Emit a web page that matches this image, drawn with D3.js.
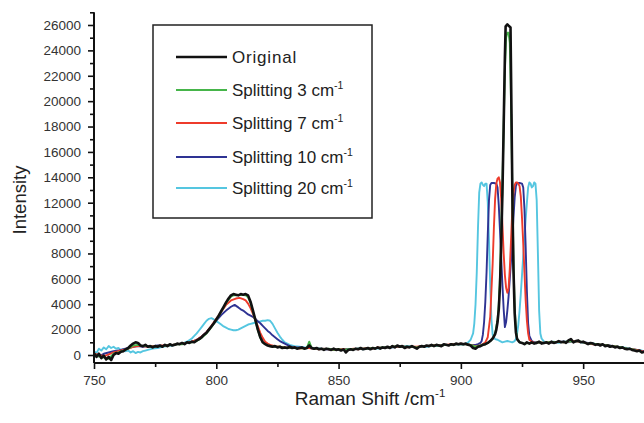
<!DOCTYPE html>
<html>
<head>
<meta charset="utf-8">
<script src="https://cdn.jsdelivr.net/npm/d3@7"></script>
<style>
  html, body { margin: 0; padding: 0; background: #fff; }
  svg { display: block; font-family: "Liberation Sans", Arial, sans-serif; }
</style>
</head>
<body>
<svg id="chart" width="644" height="423"></svg>
<script>
// ---------- DATA ----------
const seriesNames = ["Original", "Splitting 3 cm", "Splitting 7 cm", "Splitting 10 cm", "Splitting 20 cm"];
const seriesColors = ["#111111", "#46b54a", "#ee3b2b", "#2e3393", "#55c6e0"];

const xTicks = [750, 800, 850, 900, 950];
const xMinorTicks = [775, 825, 875, 925, 975];
const yTicks = [0, 2000, 4000, 6000, 8000, 10000, 12000, 14000, 16000, 18000, 20000, 22000, 24000, 26000];
const yMinorTicks = [1000, 3000, 5000, 7000, 9000, 11000, 13000, 15000, 17000, 19000, 21000, 23000, 25000, 27000];

const original = [[750,150],[751,-150],[752,100],[753,-250],[754,-50],[755,-350],[756,-150],[757,-400],[758,0],[759,150],[760,100],[761,250],[762,300],[763,450],[764,550],[765,750],[766,900],[767,1000],[768,950],[769,750],[770,700],[771,800],[772,650],[773,700],[774,600],[775,700],[776,650],[777,750],[778,650],[779,800],[780,700],[781,850],[782,750],[783,800],[784,900],[785,850],[786,950],[787,850],[788,1000],[789,950],[790,1050],[791,1000],[792,1150],[793,1250],[794,1400],[795,1600],[796,1750],[797,2000],[798,2250],[799,2500],[800,2800],[801,3100],[802,3450],[803,3800],[804,4150],[805,4450],[806,4700],[807,4800],[808,4750],[809,4700],[810,4800],[811,4750],[812,4800],[813,4700],[814,4200],[815,3500],[816,2750],[817,2000],[818,1400],[819,1000],[820,850],[821,750],[822,700],[823,650],[824,700],[825,600],[826,650],[827,550],[828,600],[829,550],[830,650],[831,550],[832,600],[833,500],[834,550],[835,600],[836,500],[837,550],[838,750],[839,550],[840,500],[841,550],[842,450],[843,500],[844,400],[845,500],[846,450],[847,400],[848,500],[849,400],[850,450],[851,350],[852,450],[853,200],[854,400],[855,450],[856,400],[857,500],[858,450],[859,550],[860,450],[861,500],[862,550],[863,450],[864,550],[865,500],[866,600],[867,500],[868,600],[869,550],[870,650],[871,550],[872,700],[873,600],[874,750],[875,650],[876,700],[877,550],[878,650],[879,600],[880,700],[881,600],[882,500],[883,650],[884,700],[885,650],[886,750],[887,700],[888,800],[889,700],[890,800],[891,750],[892,700],[893,850],[894,800],[895,750],[896,850],[897,800],[898,900],[899,850],[900,900],[901,850],[902,900],[903,800],[904,750],[905,550],[906,500],[907,650],[908,700],[909,800],[910,850],[911,950],[912,1100],[913,1300],[914,1650],[914.5,2000],[915,2600],[915.5,3600],[916,5500],[916.5,8800],[917,12800],[917.5,18000],[918,23500],[918.3,25900],[919,26050],[919.5,25950],[920.3,25800],[920.7,19000],[921.1,12000],[921.5,6800],[922,3300],[922.5,1800],[923,1250],[924,1000],[925,950],[926,850],[927,1000],[928,900],[929,1000],[930,900],[931,950],[932,1050],[933,900],[934,950],[935,1000],[936,900],[937,1050],[938,950],[939,1000],[940,1100],[941,1000],[942,1050],[943,950],[944,1150],[945,1250],[946,1000],[947,1100],[948,1150],[949,1000],[950,1050],[951,950],[952,850],[953,950],[954,900],[955,800],[956,850],[957,750],[958,850],[959,700],[960,750],[961,650],[962,700],[963,600],[964,650],[965,550],[966,600],[967,500],[968,450],[969,500],[970,400],[971,350],[972,300],[973,350],[974,200],[975,250]];

const split3 = [[750,0],[752,-100],[754,-200],[756,-300],[758,100],[760,200],[762,350],[764,500],[766,750],[768,800],[770,700],[772,700],[774,650],[776,700],[778,700],[780,750],[782,800],[784,850],[786,850],[788,950],[790,1000],[792,1100],[794,1350],[796,1700],[798,2200],[800,2750],[802,3400],[804,4100],[806,4600],[807,4700],[808,4700],[810,4750],[812,4700],[813,4550],[814,4100],[815,3400],[816,2700],[817,1950],[818,1350],[819,1000],[820,850],[822,700],[824,650],[826,650],[828,550],[830,600],[832,550],[834,550],[836,500],[837,550],[838,1050],[839,550],[840,500],[842,500],[844,450],[846,500],[848,400],[850,450],[852,400],[854,450],[856,450],[858,500],[860,500],[862,500],[864,550],[866,550],[868,600],[870,600],[872,650],[874,700],[876,650],[878,650],[880,650],[882,600],[884,700],[886,700],[888,750],[890,750],[892,750],[894,800],[896,800],[898,850],[900,850],[902,850],[904,800],[906,650],[908,750],[910,850],[911,950],[912,1100],[913,1300],[914,1700],[915,2800],[915.5,4000],[916,6200],[916.5,9800],[917,13500],[917.5,18000],[918,22500],[918.5,25000],[919,25400],[919.5,25400],[920,24600],[920.5,20000],[921,13500],[921.5,7500],[922,3800],[922.5,2000],[923,1300],[924,1000],[926,900],[928,950],[930,950],[932,1000],[934,950],[936,1000],[938,1000],[940,1050],[942,1000],[944,1100],[946,1050],[948,1100],[950,1000],[952,900],[954,900],[956,850],[958,800],[960,750],[962,700],[964,650],[966,600],[968,500],[970,450],[972,350],[974,250],[975,250]];

const split7 = [[750,100],[752,0],[754,-100],[756,50],[758,200],[760,300],[762,400],[764,500],[766,650],[768,700],[770,700],[772,650],[774,700],[776,700],[778,750],[780,750],[782,800],[784,850],[786,900],[788,950],[790,1050],[792,1200],[794,1450],[796,1800],[798,2300],[800,2850],[802,3400],[804,3950],[806,4300],[808,4450],[809.5,4500],[811,4400],[812,4300],[813,4050],[814,3700],[815,3250],[816,2750],[817,2250],[818,1750],[819,1350],[820,1050],[821,900],[822,800],[824,700],[826,650],[828,600],[830,550],[832,600],[834,500],[836,550],[838,550],[840,500],[842,450],[844,500],[846,450],[848,400],[850,450],[852,450],[854,400],[856,500],[858,450],[860,500],[862,550],[864,500],[866,600],[868,550],[870,600],[872,650],[874,650],[876,700],[878,600],[880,650],[882,650],[884,700],[886,700],[888,750],[890,800],[892,750],[894,800],[896,850],[898,850],[900,900],[902,850],[904,800],[906,700],[908,750],[909,850],[910,1000],[911,1400],[912,3000],[913,7200],[913.5,10000],[914,12300],[914.5,13500],[915,13900],[915.5,14000],[916,13600],[916.5,12300],[917,10200],[917.5,8000],[918,6300],[918.5,5300],[919,4900],[919.5,5200],[920,6800],[920.5,9000],[921,11300],[921.5,12800],[922,13400],[922.5,13600],[923,13600],[923.5,13500],[924,13300],[924.5,12500],[925,10800],[925.5,8800],[926,6500],[926.5,4300],[927,2700],[927.5,1700],[928,1200],[929,1050],[930,950],[932,1000],[934,950],[936,1000],[938,1000],[940,1050],[942,1000],[944,1050],[946,1100],[948,1050],[950,1000],[952,900],[954,850],[956,850],[958,800],[960,750],[962,700],[964,650],[966,550],[968,500],[970,450],[972,400],[974,300],[975,250]];

const split10 = [[750,0],[752,-100],[754,100],[756,200],[758,300],[760,350],[762,450],[764,550],[766,650],[768,700],[770,650],[772,700],[774,700],[776,750],[778,700],[780,800],[782,800],[784,850],[786,900],[788,950],[790,1050],[792,1200],[794,1450],[796,1800],[798,2250],[800,2700],[802,3150],[804,3500],[806,3800],[807.5,3950],[809,3750],[810,3600],[811,3500],[812,3350],[813,3200],[814,3100],[815,3000],[816,2850],[817,2650],[818,2500],[819,2300],[820,2100],[821,1900],[822,1750],[823,1550],[824,1400],[825,1250],[826,1100],[827,1000],[828,900],[829,800],[830,700],[832,600],[834,600],[836,550],[838,550],[840,500],[842,500],[844,450],[846,450],[848,450],[850,400],[852,450],[854,450],[856,450],[858,500],[860,500],[862,500],[864,550],[866,550],[868,600],[870,600],[872,600],[874,650],[876,650],[878,650],[880,650],[882,600],[884,700],[886,700],[888,750],[890,750],[892,750],[894,800],[896,800],[898,850],[900,850],[902,850],[904,800],[906,800],[907,850],[908,950],[908.5,1100],[909,1600],[909.5,2600],[910,4200],[910.5,6500],[911,9500],[911.5,12200],[912,13400],[912.5,13550],[913.5,13550],[914.5,13500],[915,13200],[915.5,11800],[916,9800],[916.5,7600],[917,5500],[917.5,3600],[918,2200],[918.5,2600],[919,3500],[919.5,4600],[920,6000],[920.5,7400],[921,9000],[921.5,10800],[922,12400],[922.5,13300],[923,13550],[924,13550],[925,13500],[925.5,13200],[926,11500],[926.5,8500],[927,5000],[927.5,2500],[928,1500],[929,1100],[930,1000],[932,1000],[934,950],[936,1000],[938,950],[940,1050],[942,1050],[944,1050],[946,1100],[948,1050],[950,1000],[952,950],[954,900],[956,850],[958,800],[960,800],[962,700],[964,650],[966,600],[968,500],[970,450],[972,400],[974,300],[975,300]];

const split20 = [[750,300],[751,150],[752,500],[753,350],[754,600],[755,450],[756,700],[757,550],[758,650],[759,500],[760,550],[761,400],[762,450],[763,300],[764,350],[765,200],[766,300],[767,150],[768,250],[769,200],[770,300],[771,350],[772,400],[774,500],[776,550],[778,650],[780,700],[782,750],[784,850],[786,900],[788,1050],[790,1300],[791,1500],[792,1700],[793,1950],[794,2200],[795,2450],[796,2700],[797,2850],[798,2900],[799,2800],[800,2650],[801,2550],[802,2400],[803,2250],[804,2150],[805,2050],[806,2000],[807,1950],[808,1950],[809,2000],[810,2100],[811,2200],[812,2300],[813,2400],[814,2450],[815,2500],[816,2550],[817,2600],[818,2650],[819,2700],[820,2700],[821,2750],[822,2700],[823,2450],[824,2100],[825,1750],[826,1450],[827,1200],[828,1000],[829,900],[830,800],[832,700],[834,650],[836,600],[838,550],[840,550],[842,500],[844,500],[846,450],[848,450],[850,450],[852,400],[854,450],[856,450],[858,500],[860,450],[862,500],[864,550],[866,500],[868,550],[870,600],[872,600],[874,650],[876,650],[878,700],[880,650],[882,600],[884,700],[886,650],[888,700],[890,750],[892,750],[894,800],[896,800],[898,850],[900,850],[901,850],[902,900],[903,1000],[904,1200],[905,1700],[905.5,2500],[906,4000],[906.5,6500],[907,10000],[907.5,12800],[908,13500],[908.5,13600],[909,13400],[909.5,13300],[910,13500],[910.5,13500],[911,12000],[911.5,9000],[912,5500],[912.5,2800],[913,1600],[914,1250],[915,1200],[916,1100],[917,1000],[918,1050],[919,1100],[920,1050],[921,1000],[922,1100],[922.5,1250],[923,1700],[923.5,2400],[924,3500],[924.5,4800],[925,6300],[925.5,7800],[926,9200],[926.5,10700],[927,12000],[927.5,13200],[928,13600],[928.5,13500],[929,13200],[929.5,13300],[930,13600],[930.5,13500],[931,12200],[931.5,8000],[932,3500],[932.5,1700],[933,1300],[934,1050],[935,950],[936,1000],[938,1050],[940,950],[942,1050],[944,1000],[946,1100],[948,1050],[950,950],[952,950],[954,900],[956,850],[958,800],[960,750],[962,700],[964,650],[966,600],[968,550],[970,450],[972,400],[974,350],[975,300]];

const seriesData = [original, split3, split7, split10, split20];

// ---------- LAYOUT ----------
const svg = d3.select("#chart");
const x = d3.scaleLinear().domain([750, 975]).range([94, 644.3]);
const y = d3.scaleLinear().domain([-630, 27000]).range([363, 12.3]);

const tickColor = "#111";
const labelColor = "#333";

svg.append("defs").append("clipPath").attr("id", "clip")
  .append("rect").attr("x", 94).attr("y", 0).attr("width", 551).attr("height", 363);

const line = d3.line().x(d => x(d[0])).y(d => y(d[1]));
const lineG = svg.append("g").attr("clip-path", "url(#clip)");
const order = [4, 3, 2, 1, 0];
order.forEach(i => {
  lineG.append("path")
    .datum(seriesData[i])
    .attr("fill", "none")
    .attr("stroke", seriesColors[i])
    .attr("stroke-width", i === 0 ? 2.6 : 1.9)
    .attr("stroke-linejoin", "round")
    .attr("d", line);
});

// x axis
const xAxis = svg.append("g").attr("transform", "translate(0,363)")
  .call(d3.axisBottom(x).tickValues(xTicks).tickSize(6).tickPadding(6).tickFormat(d => d));
svg.append("g").attr("transform", "translate(0,363)")
  .call(d3.axisBottom(x).tickValues(xMinorTicks).tickSize(4).tickFormat(""))
  .select(".domain").remove();

// y axis
const yAxis = svg.append("g").attr("transform", "translate(94,0)")
  .call(d3.axisLeft(y).tickValues(yTicks).tickSize(6).tickPadding(7).tickFormat(d => d));
svg.append("g").attr("transform", "translate(94,0)")
  .call(d3.axisLeft(y).tickValues(yMinorTicks).tickSize(4).tickFormat(""))
  .select(".domain").remove();

svg.selectAll(".domain").attr("stroke", tickColor).attr("stroke-width", 2);
svg.selectAll(".tick line").attr("stroke", tickColor).attr("stroke-width", 1.6);
svg.selectAll(".tick text").attr("fill", labelColor).style("font-size", "13.5px")
  .style("font-family", "'Liberation Sans', Arial, sans-serif");
xAxis.select(".domain").attr("d", `M${x(750)},0H${x(975)}`);
yAxis.select(".domain").attr("d", `M0,${y(27000)}V${y(-630)}`);

// axis titles
const xt = svg.append("text").attr("x", 370).attr("y", 405).attr("text-anchor", "middle")
  .attr("fill", "#222").style("font-size", "19px");
xt.append("tspan").text("Raman Shift /cm");
xt.append("tspan").attr("dy", -8).style("font-size", "11.5px").text("-1");

svg.append("text").attr("transform", "translate(26,200) rotate(-90)").attr("text-anchor", "middle")
  .attr("fill", "#222").style("font-size", "18.5px").text("Intensity");

// legend
const lg = svg.append("g");
lg.append("rect").attr("x", 153).attr("y", 25).attr("width", 219).attr("height", 193)
  .attr("fill", "#fff").attr("stroke", "#222").attr("stroke-width", 1.5);
const rowY = [57, 90, 123, 157, 188];
seriesNames.forEach((name, i) => {
  lg.append("line").attr("x1", 176).attr("x2", 227).attr("y1", rowY[i]).attr("y2", rowY[i])
    .attr("stroke", seriesColors[i]).attr("stroke-width", i === 0 ? 2.6 : 2.2);
  const t = lg.append("text").attr("x", 232).attr("y", rowY[i] + 6)
    .attr("fill", "#222").style("font-size", "17px");
  if (i === 0) {
    t.style("letter-spacing", "0.8px").text(name);
  } else {
    t.append("tspan").text(name);
    t.append("tspan").attr("dy", -7).style("font-size", "10.5px").text("-1");
  }
});
</script>
</body>
</html>
